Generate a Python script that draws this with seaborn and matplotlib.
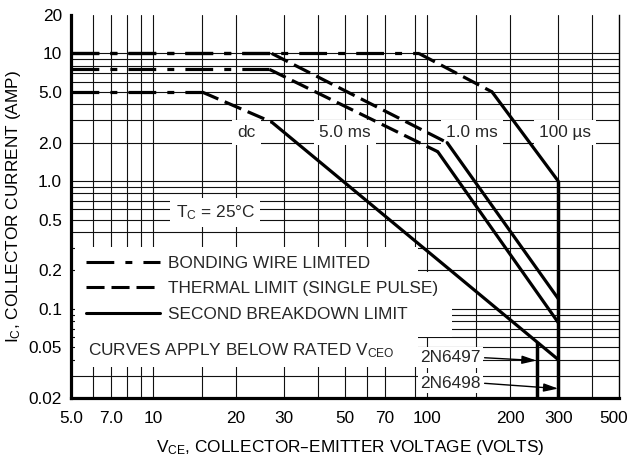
import matplotlib
matplotlib.use("Agg")
import numpy as np
import pandas as pd
import matplotlib.pyplot as plt
from matplotlib import font_manager
from matplotlib.lines import Line2D
from matplotlib.patches import Rectangle
from matplotlib.transforms import ScaledTranslation
from matplotlib.ticker import FixedLocator, FixedFormatter, NullFormatter
import seaborn as sns

# Active-region safe operating area, VCE in volts and IC in amps.
# Each curve runs: bonding-wire limit -> thermal limit -> second breakdown.
vce_100us = [5, 93, 172, 300]
ic_100us = [10, 10, 5.0, 1.0]
vce_1ms = [5, 27, 118, 300]
ic_1ms = [10, 10, 2.0, 0.12]
vce_5ms = [5, 26.5, 109, 300]
ic_5ms = [7.5, 7.5, 1.7, 0.078]
vce_dc = [5, 15, 27, 300]
ic_dc = [5.0, 5.0, 2.9, 0.04]
segment_limits = ["bonding", "thermal", "second"]

curve_names = ["100 µs", "1.0 ms", "5.0 ms", "dc"]
curve_label_vce = [318, 145, 50, 21.9]
curve_label_ic = [2.4, 2.4, 2.4, 2.4]

# Rated VCEO limits of the two device types
vceo_parts = ["2N6497", "2N6498"]
vceo_volts = [250, 300]
vceo_top_amps = [0.055, 1.0]
part_label_vce = [94, 94]
part_label_ic = [0.0415, 0.0262]
arrow_tip_ic = [0.0393, 0.0237]

x_ticks = [5, 7, 10, 20, 30, 50, 70, 100, 200, 300, 500]
x_ticklabels = ["5.0", "7.0", "10", "20", "30", "50", "70", "100", "200", "300", "500"]
y_ticks = [0.02, 0.05, 0.1, 0.2, 0.5, 1, 2, 5, 10, 20]
y_ticklabels = ["0.02", "0.05", "0.1", "0.2", "0.5", "1.0", "2.0", "5.0", "10", "20"]
x_grid = [6, 7, 8, 9, 10, 15, 20, 30, 40, 50, 60, 70, 90, 100, 150, 200, 300, 400]
y_grid = [0.03, 0.04, 0.05, 0.06, 0.07, 0.08, 0.09, 0.1, 0.2, 0.3, 0.4, 0.5,
          0.6, 0.7, 0.8, 0.9, 1, 2, 3, 4, 5, 6, 7, 8, 9, 10]

legend_labels = ["BONDING WIRE LIMITED", "THERMAL LIMIT (SINGLE PULSE)",
                 "SECOND BREAKDOWN LIMIT"]

sns.set_theme(style="white")
plt.rcParams["lines.scale_dashes"] = False
plt.rcParams["mathtext.default"] = "regular"

installed = {f.name for f in font_manager.fontManager.ttflist}
if "Liberation Sans Narrow" in installed:
    FAMILY, FS = "Liberation Sans Narrow", 15.0
else:
    FAMILY, FS = "Liberation Sans", 12.4
plt.rcParams["font.family"] = [FAMILY, "DejaVu Sans"]
plt.rcParams["font.size"] = FS

DPI = 100
fig = plt.figure(figsize=(6.28, 4.61), dpi=DPI)
ax = fig.add_axes([71 / 628, 63 / 461, 548 / 628, 383 / 461])
ax.set_xscale("log")
ax.set_yscale("log")
ax.set_xlim(x_ticks[0], x_ticks[-1])
ax.set_ylim(y_ticks[0], y_ticks[-1])

# long table of segments
rows = []
for name, xs, ys in zip(curve_names, [vce_100us, vce_1ms, vce_5ms, vce_dc],
                        [ic_100us, ic_1ms, ic_5ms, ic_dc]):
    for i, lim in enumerate(segment_limits):
        for j in (i, i + 1):
            rows.append({"vce": xs[j], "ic": ys[j], "limit": lim, "unit": f"{name}-{i}"})
df = pd.DataFrame(rows)

dash_bond = (20, 8, 5, 8)
dash_therm = (13, 5)
sns.lineplot(data=df, x="vce", y="ic", style="limit", units="unit", estimator=None,
             sort=False, dashes={"bonding": dash_bond, "thermal": dash_therm, "second": ""},
             color="black", lw=2.3, legend=False, ax=ax, zorder=4)

ax.vlines(vceo_volts, y_ticks[0], vceo_top_amps, color="black", lw=2.5, zorder=4)

# grid from minor locations, labels from major locations
ax.xaxis.remove_overlapping_locs = False
ax.yaxis.remove_overlapping_locs = False
ax.xaxis.set_major_locator(FixedLocator(x_ticks))
ax.xaxis.set_major_formatter(FixedFormatter(x_ticklabels))
ax.xaxis.set_minor_locator(FixedLocator(x_grid))
ax.xaxis.set_minor_formatter(NullFormatter())
ax.yaxis.set_major_locator(FixedLocator(y_ticks))
ax.yaxis.set_major_formatter(FixedFormatter(y_ticklabels))
ax.yaxis.set_minor_locator(FixedLocator(y_grid))
ax.yaxis.set_minor_formatter(NullFormatter())
ax.grid(False, which="major")
ax.grid(True, which="minor", color="#111111", lw=0.8)
ax.set_axisbelow(True)
ax.tick_params(axis="x", which="both", length=0, pad=9, labelsize=FS, colors="black")
ax.tick_params(axis="y", which="major", length=3.5, width=1, direction="out", pad=3,
               labelsize=FS, colors="black")
ax.tick_params(axis="y", which="minor", length=0)

for side in ("left", "bottom"):
    ax.spines[side].set_linewidth(2.3)
    ax.spines[side].set_color("black")
ax.spines["right"].set_linewidth(1.0)
ax.spines["right"].set_color("black")
ax.spines["top"].set_visible(False)

# blank panels behind the key
for (x0, y0, w, h) in [(0.008, 0.081, 0.625, 0.314), (0.62, 0.159, 0.075, 0.17)]:
    ax.add_patch(Rectangle((x0, y0), w, h, transform=ax.transAxes, facecolor="white",
                           edgecolor="none", zorder=1))

fs_px = FS * DPI / 72
handles = [Line2D([], [], color="black", lw=2.2, dashes=dash_bond),
           Line2D([], [], color="black", lw=2.2, dashes=dash_therm),
           Line2D([], [], color="black", lw=2.2)]
leg = ax.legend(handles, legend_labels, loc="upper left", bbox_to_anchor=(0.0274, 0.372),
                frameon=False, borderpad=0, borderaxespad=0, handlelength=74 / fs_px,
                handletextpad=8 / fs_px, labelspacing=0.62, fontsize=FS)
leg.set_zorder(5)

ax.text(0.031, 0.112, "CURVES APPLY BELOW RATED V$_{CEO}$", transform=ax.transAxes,
        ha="left", va="baseline", zorder=5)

box = dict(boxstyle="square,pad=0.3", facecolor="white", edgecolor="none")
for name, xv, yv in zip(curve_names, curve_label_vce, curve_label_ic):
    ax.text(xv, yv, name, ha="center", va="center", bbox=box, zorder=3)

ax.text(16.8, 0.563, "T$_C$ = 25°C", ha="center", va="center", bbox=box, zorder=3)

for part, xv, yv, tip_x, tip_y in zip(vceo_parts, part_label_vce, part_label_ic,
                                      vceo_volts, arrow_tip_ic):
    ax.annotate(part, xy=(tip_x, tip_y), xytext=(xv, yv), ha="left", va="center",
                bbox=dict(boxstyle="square,pad=0.15", facecolor="white", edgecolor="none"),
                arrowprops=dict(arrowstyle="-|>,head_length=0.7,head_width=0.2",
                                color="black", lw=1, shrinkA=1, shrinkB=0,
                                relpos=(1, 0.5)),
                zorder=3)

ax.set_xlabel("V$_{CE}$, COLLECTOR–EMITTER VOLTAGE (VOLTS)", fontsize=FS, color="black")
ax.xaxis.set_label_coords(0.509, -0.105)
ax.set_ylabel("I$_C$, COLLECTOR CURRENT (AMP)", fontsize=FS, color="black", labelpad=4)

# keep the last voltage label inside the canvas
fig.canvas.draw()
last = ax.xaxis.get_major_ticks()[-1].label1
last.set_horizontalalignment("right")
last.set_transform(last.get_transform() + ScaledTranslation(0.09, 0, fig.dpi_scale_trans))

fig.savefig("out.png", dpi=DPI)
